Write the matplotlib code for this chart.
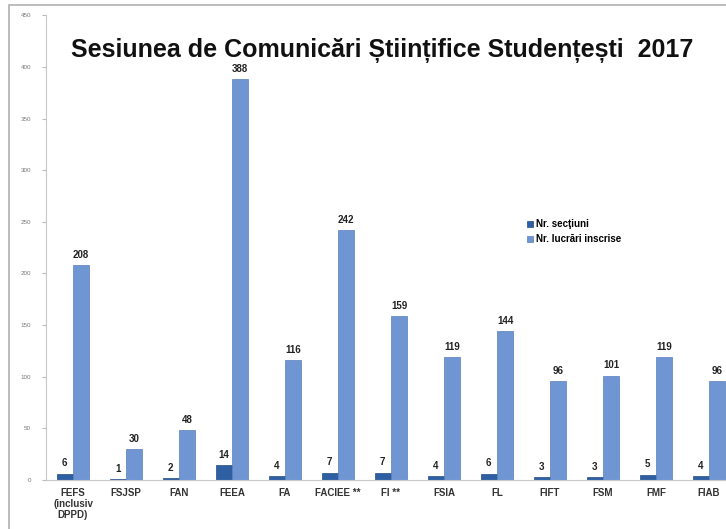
import matplotlib.pyplot as plt
import numpy as np
from matplotlib.patches import Rectangle

# faculty names and values
categories = ["FEFS\n(inclusiv\nDPPD)", "FSJSP", "FAN", "FEEA", "FA", "FACIEE **", "FI **",
              "FSIA", "FL", "FIFT", "FSM", "FMF", "FIAB"]
nr_sectiuni = [6, 1, 2, 14, 4, 7, 7, 4, 6, 3, 3, 5, 4]
nr_lucrari = [208, 30, 48, 388, 116, 242, 159, 119, 144, 96, 101, 119, 96]
y_ticks = [0, 50, 100, 150, 200, 250, 300, 350, 400, 450]

plt.rcParams['font.family'] = ['Liberation Sans', 'DejaVu Sans']

fig = plt.figure(figsize=(7.26, 5.29), dpi=100)
# frame around the slide
fig.patches.append(Rectangle((0.013, -0.05), 1.1, 1.04, transform=fig.transFigure,
                             fill=False, edgecolor='#b0b0b0', linewidth=1.2))

ax = fig.add_axes([0.064, 0.093, 0.949, 0.878])
x = np.arange(len(categories))
w = 0.31
off = 0.155
ax.bar(x - off, nr_sectiuni, w, color='#2e5fa3', edgecolor='#244c85', linewidth=0.5,
       label='Nr. secţiuni')
ax.bar(x + off, nr_lucrari, w, color='#6f95d2', edgecolor='#5a7fbd', linewidth=0.5,
       label='Nr. lucrări inscrise')

for i in range(len(categories)):
    ax.text(x[i] - off, nr_sectiuni[i] + 5, str(nr_sectiuni[i]), ha='center', va='bottom',
            fontsize=7, fontweight='bold', color='#222222')
    ax.text(x[i] + off, nr_lucrari[i] + 5, str(nr_lucrari[i]), ha='center', va='bottom',
            fontsize=7, fontweight='bold', color='#222222')

ax.set_xlim(-0.5, len(categories) - 0.5)
ax.set_ylim(0, 450)
ax.set_yticks(y_ticks)
ax.set_yticklabels([str(t) for t in y_ticks], fontsize=4.5, color='#777777')
ax.set_xticks(x)
ax.set_xticklabels(categories, fontsize=7, fontweight='bold', color='#333333', linespacing=1.1)
ax.tick_params(axis='x', length=0, pad=6)
ax.tick_params(axis='y', length=3, color='#bbbbbb', pad=8)
for side in ['top', 'right']:
    ax.spines[side].set_visible(False)
ax.spines['left'].set_color('#c8c8c8')
ax.spines['bottom'].set_color('#c8c8c8')

fig.text(0.527, 0.905, "Sesiunea de Comunicări Științifice Studențești  2017",
         ha='center', va='center', fontsize=18, fontweight='bold', color='#111111')

ax.legend(loc='upper left', bbox_to_anchor=(0.685, 0.58), frameon=False,
          prop={'weight': 'bold', 'size': 7}, handlelength=0.6, handleheight=0.6,
          handletextpad=0.3, labelspacing=0.5)

fig.savefig('out.png', dpi=100)
